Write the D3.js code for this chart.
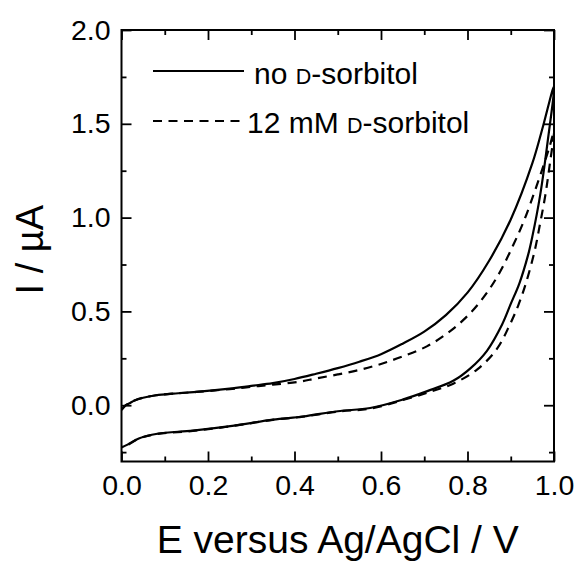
<!DOCTYPE html>
<html>
<head>
<meta charset="utf-8">
<script src="https://cdn.jsdelivr.net/npm/d3@7"></script>
<style>
  html, body { margin: 0; padding: 0; background: #fff; }
  svg { display: block; }
  text { font-family: "Liberation Sans", Arial, sans-serif; fill: #000; }
</style>
</head>
<body>
<svg id="chart" width="577" height="562"></svg>
<script>
// ---- data ----
const xTicks = [0.0, 0.2, 0.4, 0.6, 0.8, 1.0];
const xMinorTicks = [0.1, 0.3, 0.5, 0.7, 0.9];
const yTicks = [0.0, 0.5, 1.0, 1.5, 2.0];
const yMinorTicks = [-0.25, 0.25, 0.75, 1.25, 1.75];
const seriesNames = ["no D-sorbitol", "12 mM D-sorbitol"];

// no D-sorbitol: forward scan (0 -> 1.0 V) then reverse scan (1.0 -> 0 V)
const noSorbitolE = [0.000, 0.010, 0.020, 0.030, 0.050, 0.080, 0.120, 0.180, 0.250, 0.300, 0.350, 0.400, 0.450, 0.500, 0.550, 0.600, 0.650, 0.700, 0.750, 0.800, 0.850, 0.900, 0.950, 0.975, 1.000,
                     0.985, 0.968, 0.950, 0.940, 0.920, 0.900, 0.880, 0.845, 0.806, 0.767, 0.707, 0.650, 0.575, 0.500, 0.420, 0.350, 0.256, 0.165, 0.083, 0.040, 0.014, 0.000];
const noSorbitolI = [-0.025, 0.000, 0.012, 0.025, 0.040, 0.053, 0.062, 0.072, 0.088, 0.103, 0.118, 0.140, 0.168, 0.198, 0.232, 0.272, 0.328, 0.392, 0.480, 0.600, 0.770, 0.990, 1.290, 1.490, 1.700,
                     1.400, 1.120, 0.900, 0.800, 0.650, 0.540, 0.430, 0.290, 0.195, 0.130, 0.075, 0.030, -0.015, -0.032, -0.060, -0.077, -0.110, -0.135, -0.152, -0.177, -0.210, -0.225];

// 12 mM D-sorbitol
const sorbitolE = [0.000, 0.010, 0.020, 0.030, 0.050, 0.080, 0.120, 0.180, 0.250, 0.300, 0.350, 0.410, 0.450, 0.500, 0.550, 0.600, 0.650, 0.707, 0.760, 0.806, 0.845, 0.875, 0.905, 0.930, 0.960, 0.990, 1.000,
                   0.990, 0.980, 0.968, 0.955, 0.935, 0.917, 0.898, 0.868, 0.822, 0.767, 0.714, 0.650, 0.575, 0.500, 0.420, 0.350, 0.256, 0.165, 0.083, 0.040, 0.014, 0.000];
const sorbitolI = [-0.025, 0.000, 0.012, 0.025, 0.040, 0.053, 0.062, 0.072, 0.086, 0.098, 0.110, 0.125, 0.143, 0.164, 0.188, 0.220, 0.260, 0.315, 0.395, 0.490, 0.600, 0.710, 0.850, 0.980, 1.170, 1.380, 1.460,
                   1.280, 1.120, 0.970, 0.820, 0.650, 0.530, 0.430, 0.300, 0.190, 0.115, 0.072, 0.027, -0.018, -0.034, -0.061, -0.078, -0.111, -0.137, -0.153, -0.178, -0.212, -0.222];

// ---- layout ----
const svg = d3.select("#chart");
const m = { left: 121.5, right: 554, top: 30, bottom: 461.5 };
const x = d3.scaleLinear().domain([0, 1.0]).range([m.left, m.right]);
const y = d3.scaleLinear().domain([-0.3, 2.0]).range([m.bottom, m.top]);

const black = "#000";

// curves
const line = d3.line().x(d => x(d[0])).y(d => y(d[1])).curve(d3.curveCatmullRom.alpha(0.5));
const series = [
  { E: noSorbitolE, I: noSorbitolI, dash: null },
  { E: sorbitolE, I: sorbitolI, dash: "9,6.5" }
];
svg.append("clipPath").attr("id", "clip").append("rect")
  .attr("x", m.left).attr("y", m.top).attr("width", m.right - m.left).attr("height", m.bottom - m.top);
series.forEach(s => {
  const pts = s.E.map((e, i) => [e, s.I[i]]);
  svg.append("path").datum(pts)
    .attr("d", line)
    .attr("fill", "none")
    .attr("stroke", black)
    .attr("stroke-width", 2.2)
    .attr("stroke-dasharray", s.dash)
    .attr("clip-path", "url(#clip)");
});

// axes (inward ticks)
function styleAxis(g) {
  g.select(".domain").remove();
  g.selectAll(".tick line").attr("stroke", black).attr("stroke-width", 1.8);
  g.selectAll(".tick text").style("font-size", "28.5px").attr("fill", black);
}
const gBottom = svg.append("g").attr("transform", `translate(0,${m.bottom})`)
  .call(d3.axisBottom(x).tickValues(xTicks).tickFormat(d3.format(".1f")).tickSize(-10).tickPadding(22));
styleAxis(gBottom);
gBottom.selectAll(".tick text").attr("dy", "0.71em").attr("y", 13);
const gBottomMinor = svg.append("g").attr("transform", `translate(0,${m.bottom})`)
  .call(d3.axisBottom(x).tickValues(xMinorTicks).tickFormat("").tickSize(-5));
styleAxis(gBottomMinor);

const gTop = svg.append("g").attr("transform", `translate(0,${m.top})`)
  .call(d3.axisTop(x).tickValues(xTicks).tickFormat("").tickSize(-10));
styleAxis(gTop);
const gTopMinor = svg.append("g").attr("transform", `translate(0,${m.top})`)
  .call(d3.axisTop(x).tickValues(xMinorTicks).tickFormat("").tickSize(-5));
styleAxis(gTopMinor);

const gLeft = svg.append("g").attr("transform", `translate(${m.left},0)`)
  .call(d3.axisLeft(y).tickValues(yTicks).tickFormat(d3.format(".1f")).tickSize(-10).tickPadding(22));
styleAxis(gLeft);
gLeft.selectAll(".tick text").attr("x", -11);
const gLeftMinor = svg.append("g").attr("transform", `translate(${m.left},0)`)
  .call(d3.axisLeft(y).tickValues(yMinorTicks).tickFormat("").tickSize(-5));
styleAxis(gLeftMinor);

const gRight = svg.append("g").attr("transform", `translate(${m.right},0)`)
  .call(d3.axisRight(y).tickValues(yTicks).tickFormat("").tickSize(-10));
styleAxis(gRight);
const gRightMinor = svg.append("g").attr("transform", `translate(${m.right},0)`)
  .call(d3.axisRight(y).tickValues(yMinorTicks).tickFormat("").tickSize(-5));
styleAxis(gRightMinor);

// frame
svg.append("rect")
  .attr("x", m.left).attr("y", m.top)
  .attr("width", m.right - m.left).attr("height", m.bottom - m.top)
  .attr("fill", "none").attr("stroke", black).attr("stroke-width", 2);

// axis titles
svg.append("text")
  .attr("x", (m.left + m.right) / 2).attr("y", 553)
  .attr("text-anchor", "middle")
  .style("font-size", "39px")
  .text("E versus Ag/AgCl / V");
svg.append("text")
  .attr("transform", `translate(43,${(m.top + m.bottom) / 2 + 4}) rotate(-90)`)
  .attr("text-anchor", "middle")
  .style("font-size", "38px")
  .text("I / µA");

// legend
const legend = [
  { name: seriesNames[0], dash: null, ly: 71, ty: 84, tx: 254 },
  { name: seriesNames[1], dash: "9,6.5", ly: 121, ty: 133, tx: 247 }
];
legend.forEach(l => {
  svg.append("line")
    .attr("x1", 153).attr("x2", 244).attr("y1", l.ly).attr("y2", l.ly)
    .attr("stroke", black).attr("stroke-width", 2.2)
    .attr("stroke-dasharray", l.dash);
  const idx = l.name.indexOf("D-");
  const t = svg.append("text").attr("x", l.tx).attr("y", l.ty).style("font-size", "30px");
  t.append("tspan").text(l.name.slice(0, idx));
  t.append("tspan").style("font-size", "21.5px").text("D");
  t.append("tspan").text(l.name.slice(idx + 1));
});
</script>
</body>
</html>
